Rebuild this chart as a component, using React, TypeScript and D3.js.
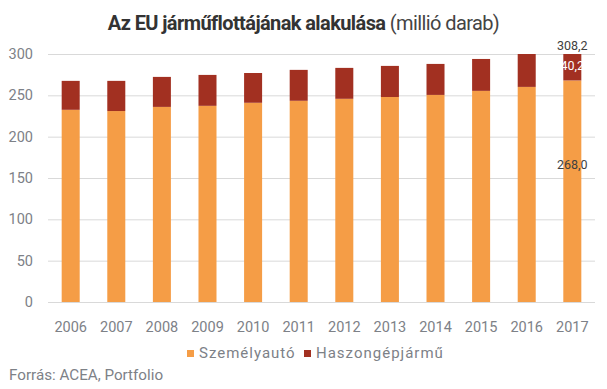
import { useEffect, useRef } from 'react'
import * as d3 from 'd3'

const years = ['2006', '2007', '2008', '2009', '2010', '2011', '2012', '2013', '2014', '2015', '2016', '2017']
const cars = [232.5, 231, 236, 237.3, 241, 243.4, 245.8, 248, 250.5, 255.4, 260.2, 268.0]
const commercial = [35, 36.5, 36.3, 37.4, 36, 37.4, 37.4, 37.6, 37.5, 38.6, 39.8, 40.2]
const yTicks = [0, 50, 100, 150, 200, 250, 300]
const seriesNames = ['Személyautó', 'Haszongépjármű']
const colors = ['#F59D46', '#A23021']

const fmt = (v: number) => v.toFixed(1).replace('.', ',')

export default function App() {
  const svgRef = useRef<SVGSVGElement>(null)

  useEffect(() => {
    if (!svgRef.current) return
    const svg = d3.select(svgRef.current)
    svg.selectAll('*').remove()

    const font = 'Roboto, sans-serif'
    const gray = '#7d8187'
    const margin = { top: 54, left: 48, right: 12, bottom: 87 }
    const W = 607, H = 389
    const width = W - margin.left - margin.right
    const height = H - margin.top - margin.bottom

    const x = d3.scaleBand().domain(years).range([0, width]).paddingInner(0.605).paddingOuter(0.3)
    const y = d3.scaleLinear().domain([0, 300]).range([height, 0])

    svg.append('defs').append('clipPath').attr('id', 'plotclip')
      .append('rect').attr('x', -5).attr('y', 0).attr('width', width + 10).attr('height', height)

    // Title
    const title = svg.append('text')
      .attr('x', 303.5).attr('y', 30)
      .attr('text-anchor', 'middle')
      .style('font-family', font).style('font-size', '20px').style('fill', '#333')
      .style('letter-spacing', '-0.6px')
    title.append('tspan').style('font-weight', 'bold').text('Az EU járműflottájának alakulása')
    title.append('tspan').style('fill', '#444').text(' (millió darab)')

    const g = svg.append('g').attr('transform', `translate(${margin.left},${margin.top})`)

    // Grid
    g.selectAll('.grid').data(yTicks).enter().append('line')
      .attr('x1', 0).attr('x2', width)
      .attr('y1', d => y(d) + 0.5).attr('y2', d => y(d) + 0.5)
      .attr('stroke', '#d9d9d9').attr('stroke-width', 1)

    g.selectAll('.ylab').data(yTicks).enter().append('text')
      .attr('x', -15).attr('y', d => y(d) + 5)
      .attr('text-anchor', 'end')
      .style('font-family', font).style('font-size', '14.5px').style('fill', gray)
      .text(d => d)

    // Bars
    const stacked = years.map((yr, i) => ({ yr, car: cars[i], com: commercial[i] }))
    const bars = g.append('g').attr('clip-path', 'url(#plotclip)')
    bars.selectAll('.car').data(stacked).enter().append('rect')
      .attr('x', d => x(d.yr)!).attr('width', x.bandwidth())
      .attr('y', d => y(d.car)).attr('height', d => y(0) - y(d.car))
      .attr('fill', colors[0])
    bars.selectAll('.com').data(stacked).enter().append('rect')
      .attr('x', d => x(d.yr)!).attr('width', x.bandwidth())
      .attr('y', d => y(d.car + d.com)).attr('height', d => y(d.car) - y(d.car + d.com))
      .attr('fill', colors[1])

    // X labels
    g.selectAll('.xlab').data(years).enter().append('text')
      .attr('x', d => x(d)! + x.bandwidth() / 2).attr('y', height + 30)
      .attr('text-anchor', 'middle')
      .style('font-family', font).style('font-size', '14.5px').style('fill', gray)
      .text(d => d)

    // Data labels for the last year
    const last = stacked[stacked.length - 1]
    const cx = x(last.yr)! + x.bandwidth() / 2
    g.append('text').attr('x', cx).attr('y', -4).attr('text-anchor', 'middle')
      .style('font-family', font).style('font-size', '12.5px').style('fill', '#404040')
      .text(fmt(last.car + last.com))
    g.append('text').attr('x', cx).attr('y', 16).attr('text-anchor', 'middle')
      .style('font-family', font).style('font-size', '12.5px').style('fill', '#fff')
      .text(fmt(last.com))
    g.append('text').attr('x', cx).attr('y', y(last.car / 2) - 22).attr('text-anchor', 'middle')
      .style('font-family', font).style('font-size', '12.5px').style('fill', '#404040')
      .text(fmt(last.car))

    // Legend
    const legend = svg.append('g')
    const items = [{ x: 187, name: seriesNames[0], c: colors[0] }, { x: 304, name: seriesNames[1], c: colors[1] }]
    items.forEach(it => {
      legend.append('rect').attr('x', it.x).attr('y', 350).attr('width', 7).attr('height', 7).attr('fill', it.c)
      legend.append('text').attr('x', it.x + 12).attr('y', 357.5)
        .style('font-family', font).style('font-size', '15px').style('fill', gray)
        .style('letter-spacing', '1px')
        .text(it.name)
    })

    svg.append('text').attr('x', 9).attr('y', 379.5)
      .style('font-family', font).style('font-size', '15.2px').style('fill', gray)
      .text('Forrás: ACEA, Portfolio')
  }, [])

  return (
    <div style={{ position: 'fixed', left: 0, top: 0 }}>
      <svg ref={svgRef} width={607} height={389} style={{ display: 'block', background: '#fff' }} />
    </div>
  )
}
